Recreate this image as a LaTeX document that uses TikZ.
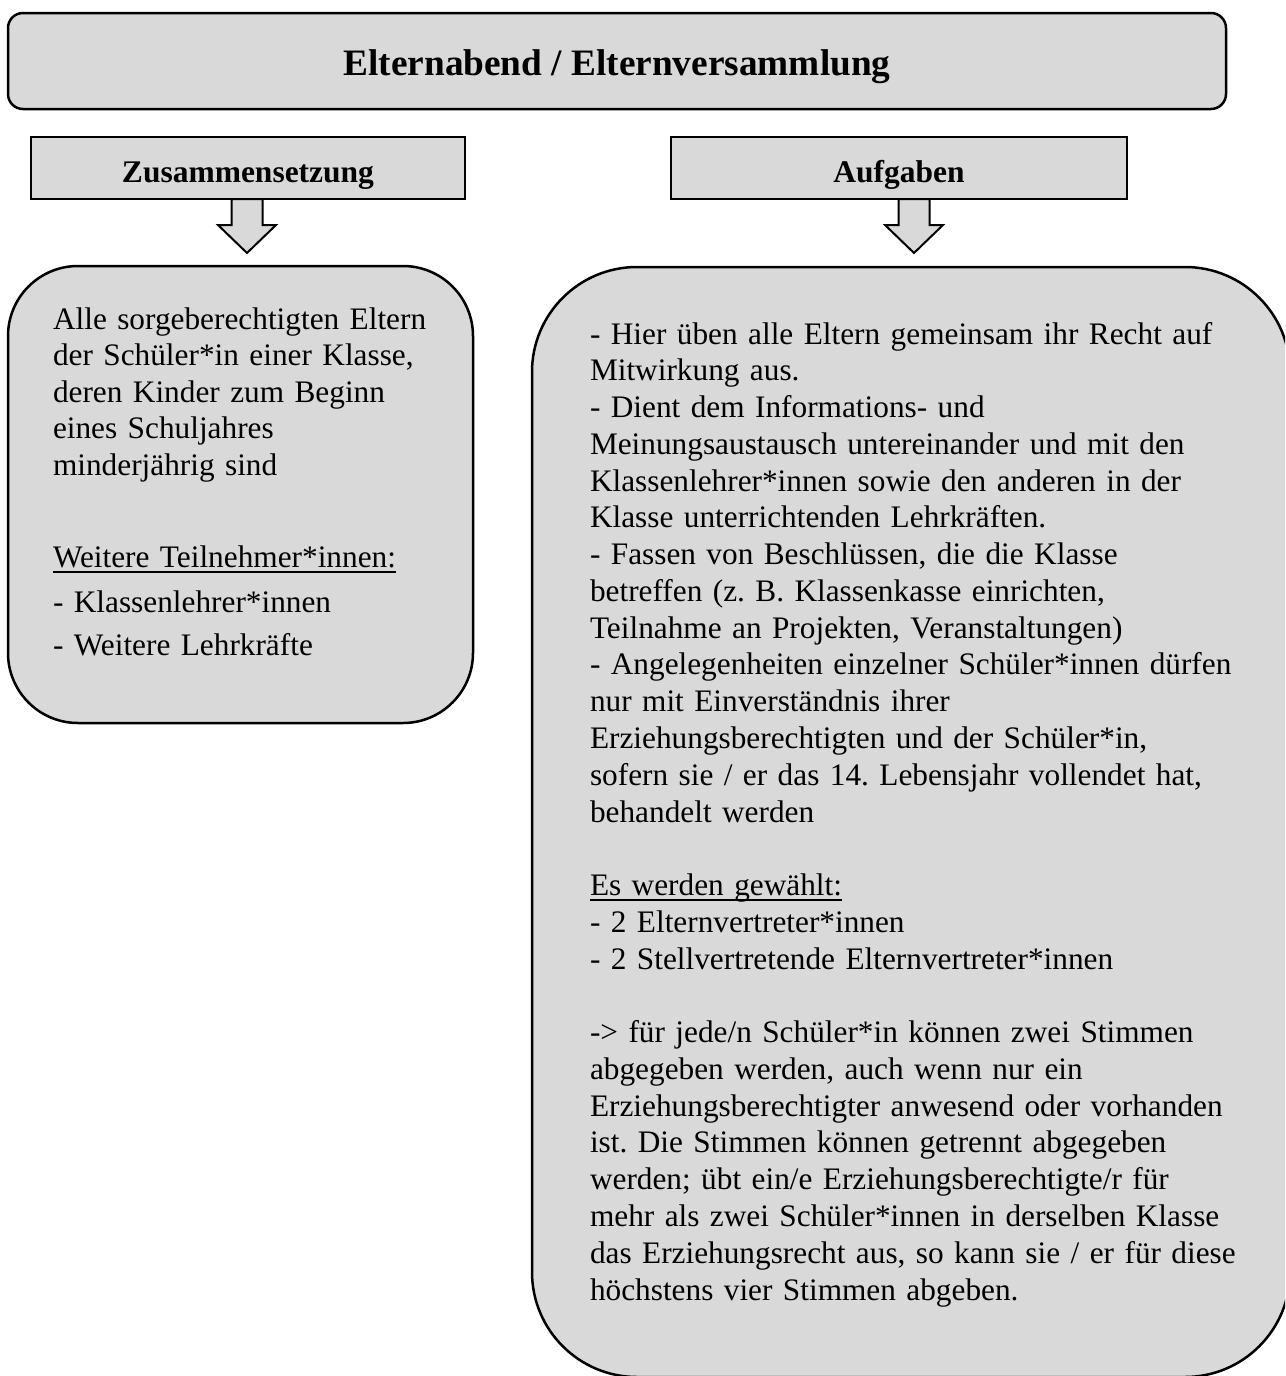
\documentclass[tikz,border=0pt]{standalone}
\usepackage{fontspec}
\setmainfont{Liberation Serif}
\frenchspacing
\definecolor{boxgray}{HTML}{D9D9D9}
\newcommand{\ulx}[1]{\leavevmode{\setbox0\hbox{#1}\rlap{\rule[-5.5pt]{\wd0}{1.8pt}}\box0}}
\tikzset{
  bigbox/.style={draw=black, fill=boxgray, line width=2.5pt, inner sep=0pt, outer sep=0pt},
  headbox/.style={draw=black, fill=boxgray, line width=2pt, inner sep=0pt, outer sep=0pt},
  bodytext/.style={inner sep=0pt, outer sep=0pt, font=\fontsize{31.3}{36.5}\selectfont\frenchspacing, text width=720pt, align=left, anchor=base west},
  headtext/.style={inner sep=0pt, outer sep=0pt, font=\fontsize{31.5}{36.5}\selectfont\bfseries, anchor=base},
  blockarrow/.style={draw=black, fill=boxgray, line width=2pt, line join=miter}
}
\begin{document}
\begin{tikzpicture}[x=1pt,y=-1pt]
\useasboundingbox (0,0) rectangle (1285,1376);
\clip (0,0) rectangle (1285,1376);

% title
\node[bigbox, rounded corners=15pt, minimum width=1218pt, minimum height=96pt] (title) at (617,61) {};
\node[headtext, font=\fontsize{37.3}{44}\selectfont\bfseries] (titletext) at (617,75) {Elternabend / Elternversammlung};

% header boxes
\node[headbox, minimum width=434pt, minimum height=62pt] (zus) at (248,168) {};
\node[headtext] (zustext) at (248,182) {Zusammensetzung};
\node[headbox, minimum width=456pt, minimum height=62pt] (auf) at (899,168) {};
\node[headtext] (auftext) at (899,182) {Aufgaben};

% content boxes
\node[bigbox, rounded corners=70pt, minimum width=465pt, minimum height=457pt] (left) at (240.5,494.5) {};
\node[bigbox, rounded corners=105pt, minimum width=758pt, minimum height=1110pt] (right) at (911,822) {};

% block arrows
\coordinate (za) at (247,199);
\coordinate (aa) at (914,199);
\draw[blockarrow, shift={(za)}] (-15.5,0) -- (-15.5,26) -- (-29,26) -- (0,54) -- (29,26) -- (15.5,26) -- (15.5,0) -- cycle;
\draw[blockarrow, shift={(aa)}] (-15.5,0) -- (-15.5,26) -- (-29,26) -- (0,54) -- (29,26) -- (15.5,26) -- (15.5,0) -- cycle;

% left text
\node[bodytext] (lefttext) at (53,329) {Alle sorgeberechtigten Eltern\\
der Schüler*in einer Klasse,\\
deren Kinder zum Beginn\\
eines Schuljahres\\
minderjährig sind\\[55.5pt]
\ulx{Weitere Teilnehmer*innen:}\\[8.5pt]
- Klassenlehrer*innen\\[6.5pt]
- Weitere Lehrkräfte};

% right text
\node[bodytext, font=\fontsize{31.3}{36.77}\selectfont\frenchspacing] (righttext) at (590,344) {- Hier üben alle Eltern gemeinsam ihr Recht auf\\
Mitwirkung aus.\\
- Dient dem Informations- und\\
Meinungsaustausch untereinander und mit den\\
Klassenlehrer*innen sowie den anderen in der\\
Klasse unterrichtenden Lehrkräften.\\
- Fassen von Beschlüssen, die die Klasse\\
betreffen (z. B. Klassenkasse einrichten,\\
Teilnahme an Projekten, Veranstaltungen)\\
- Angelegenheiten einzelner Schüler*innen dürfen\\
nur mit Einverständnis ihrer\\
Erziehungsberechtigten und der Schüler*in,\\
sofern sie / er das 14. Lebensjahr vollendet hat,\\
behandelt werden\\[36.77pt]
\ulx{Es werden gewählt:}\\
- 2 Elternvertreter*innen\\
- 2 Stellvertretende Elternvertreter*innen\\[36.77pt]
-> für jede/n Schüler*in können zwei Stimmen\\
abgegeben werden, auch wenn nur ein\\
Erziehungsberechtigter anwesend oder vorhanden\\
ist. Die Stimmen können getrennt abgegeben\\
werden; übt ein/e Erziehungsberechtigte/r für\\
mehr als zwei Schüler*innen in derselben Klasse\\
das Erziehungsrecht aus, so kann sie / er für diese\\
höchstens vier Stimmen abgeben.};
\end{tikzpicture}
\end{document}
